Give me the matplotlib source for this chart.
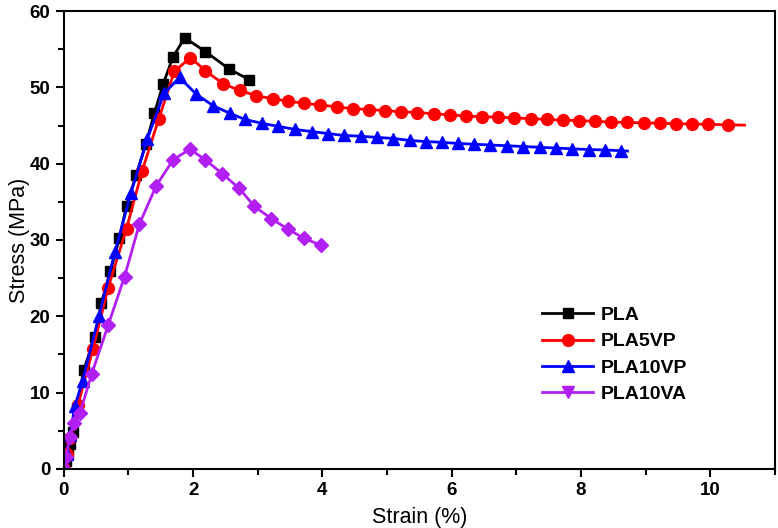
"""Stress-strain curves of PLA and its blends."""

import matplotlib

matplotlib.use("Agg")

import matplotlib.pyplot as plt
from matplotlib.lines import Line2D
from matplotlib.ticker import MultipleLocator

plt.rcParams["font.family"] = ["Liberation Sans", "DejaVu Sans"]

# Strain (%) and stress (MPa)
pla_strain = [0.0, 0.03, 0.06, 0.1, 0.14, 0.2, 0.31, 0.48, 0.58, 0.72, 0.86, 0.97,
              1.12, 1.27, 1.40, 1.54, 1.69, 1.87, 2.19, 2.56, 2.87]
pla_stress = [0.0, 1.0, 2.0, 3.2, 4.8, 8.0, 13.0, 17.3, 21.7, 25.9, 30.2, 34.5,
              38.5, 42.6, 46.6, 50.5, 54.0, 56.5, 54.7, 52.4, 51.0]

pla5vp_strain = [0.0, 0.05, 0.1, 0.22, 0.45, 0.685, 0.97, 1.21, 1.47, 1.71, 1.96,
                 2.19, 2.46, 2.72, 2.98, 3.23, 3.47, 3.72, 3.97, 4.22, 4.47, 4.72,
                 4.97, 5.22, 5.47, 5.72, 5.97, 6.22, 6.47, 6.72, 6.97, 7.22, 7.47,
                 7.72, 7.97, 8.22, 8.47, 8.72, 8.97, 9.22, 9.47, 9.72, 9.97, 10.28,
                 10.53]
pla5vp_stress = [0.0, 2.0, 4.0, 8.4, 15.7, 23.7, 31.5, 39.0, 45.9, 52.1, 53.9,
                 52.2, 50.5, 49.6, 48.9, 48.5, 48.2, 47.9, 47.7, 47.45, 47.2, 47.1,
                 46.95, 46.8, 46.7, 46.55, 46.4, 46.25, 46.15, 46.1, 46.0, 45.9,
                 45.8, 45.7, 45.65, 45.55, 45.45, 45.4, 45.35, 45.3, 45.25, 45.2,
                 45.15, 45.1, 45.05]

pla10vp_strain = [0.0, 0.05, 0.1, 0.17, 0.29, 0.546, 0.79, 1.04, 1.29, 1.55, 1.79,
                  2.05, 2.31, 2.57, 2.80, 3.06, 3.31, 3.57, 3.84, 4.09, 4.33, 4.59,
                  4.84, 5.10, 5.35, 5.60, 5.85, 6.10, 6.35, 6.60, 6.85, 7.11, 7.36,
                  7.61, 7.86, 8.12, 8.37, 8.62, 8.72]
pla10vp_stress = [0.0, 2.0, 4.5, 8.2, 11.5, 20.1, 28.4, 36.2, 43.2, 49.2, 51.3,
                  49.1, 47.6, 46.6, 45.8, 45.3, 44.9, 44.5, 44.2, 43.95, 43.7, 43.6,
                  43.45, 43.3, 43.05, 42.9, 42.8, 42.65, 42.55, 42.45, 42.35, 42.25,
                  42.15, 42.05, 41.95, 41.85, 41.8, 41.7, 41.65]

pla10va_strain = [0.0, 0.03, 0.09, 0.16, 0.25, 0.43, 0.685, 0.94, 1.17, 1.43, 1.69,
                  1.95, 2.19, 2.45, 2.71, 2.95, 3.21, 3.47, 3.72, 3.98]
pla10va_stress = [0.0, 1.5, 4.2, 6.0, 7.3, 12.4, 18.8, 25.2, 32.1, 37.1, 40.5,
                  41.9, 40.5, 38.7, 36.8, 34.4, 32.8, 31.4, 30.2, 29.3]

labels = ["PLA", "PLA5VP", "PLA10VP", "PLA10VA"]
colors = ["#000000", "#FF0000", "#0000FF", "#B11FF2"]

fig = plt.figure(figsize=(7.78, 5.28), dpi=100)
ax = fig.add_axes([0.082, 0.112, 0.914, 0.867])

lw = 2.0
ax.plot(pla_strain, pla_stress, color=colors[0], linewidth=lw,
        marker="s", markersize=7)
ax.plot(pla5vp_strain, pla5vp_stress, color=colors[1], linewidth=lw,
        marker="o", markersize=8.5, markevery=list(range(len(pla5vp_strain) - 1)))
ax.plot(pla10vp_strain, pla10vp_stress, color=colors[2], linewidth=lw,
        marker="^", markersize=9, markevery=list(range(len(pla10vp_strain) - 1)))
ax.plot(pla10va_strain, pla10va_stress, color=colors[3], linewidth=lw,
        marker="D", markersize=7.5)

handles = [
    Line2D([], [], color=colors[0], linewidth=lw, marker="s", markersize=7),
    Line2D([], [], color=colors[1], linewidth=lw, marker="o", markersize=8.5),
    Line2D([], [], color=colors[2], linewidth=lw, marker="^", markersize=9),
    Line2D([], [], color=colors[3], linewidth=lw, marker="v", markersize=9),
]
ax.legend(handles, labels, loc="upper left", bbox_to_anchor=(0.662, 0.372),
          frameon=False, prop={"size": 14, "weight": "bold"}, borderaxespad=0,
          handlelength=2.6, handletextpad=0.4, labelspacing=0.45)

ax.set_xlim(0, 11)
ax.set_ylim(0, 60)
ax.xaxis.set_major_locator(MultipleLocator(2))
ax.xaxis.set_minor_locator(MultipleLocator(1))
ax.yaxis.set_major_locator(MultipleLocator(10))
ax.yaxis.set_minor_locator(MultipleLocator(5))
ax.tick_params(which="both", direction="out", width=1.5, top=False, right=False)
ax.tick_params(which="major", length=6, labelsize=13.5)
ax.tick_params(which="minor", length=4)
for label in ax.get_xticklabels() + ax.get_yticklabels():
    label.set_fontweight("bold")
for spine in ax.spines.values():
    spine.set_linewidth(1.5)

ax.set_xlabel("Strain (%)", fontsize=15.5, labelpad=6)
ax.set_ylabel("Stress (MPa)", fontsize=15.5, labelpad=0)

fig.savefig("out.png", dpi=100)
